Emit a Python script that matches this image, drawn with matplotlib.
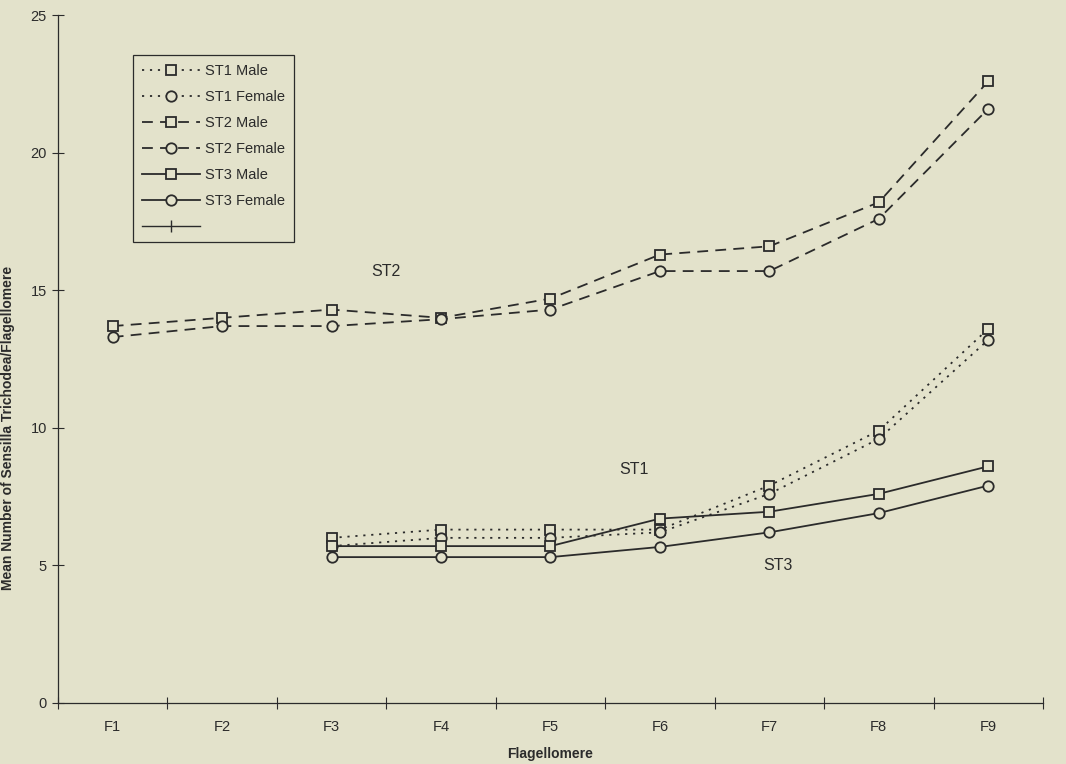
import numpy as np
import matplotlib.pyplot as plt
from matplotlib.lines import Line2D

plt.rcParams['font.family'] = ['Liberation Sans', 'DejaVu Sans']

categories = ['F1', 'F2', 'F3', 'F4', 'F5', 'F6', 'F7', 'F8', 'F9']
nan = np.nan
st1_male = [nan, nan, 6.0, 6.3, 6.3, 6.3, 7.9, 9.9, 13.6]
st1_female = [nan, nan, 5.7, 6.0, 6.0, 6.2, 7.6, 9.6, 13.2]
st2_male = [13.7, 14.0, 14.3, 14.0, 14.7, 16.3, 16.6, 18.2, 22.6]
st2_female = [13.3, 13.7, 13.7, 13.95, 14.3, 15.7, 15.7, 17.6, 21.6]
st3_male = [nan, nan, 5.7, 5.7, 5.7, 6.7, 6.95, 7.6, 8.6]
st3_female = [nan, nan, 5.3, 5.3, 5.3, 5.67, 6.2, 6.9, 7.9]

bg = '#e3e2cb'
ink = '#2b2b2b'

fig = plt.figure(figsize=(10.66, 7.64), dpi=100, facecolor=bg)
ax = fig.add_axes([0.0544, 0.080, 0.924, 0.900])
ax.set_facecolor(bg)

x = np.arange(1, len(categories) + 1)
series = [
    (st1_male, 's', (0, (1.2, 3.2)), 'ST1 Male'),
    (st1_female, 'o', (0, (1.2, 3.2)), 'ST1 Female'),
    (st2_male, 's', (0, (6, 4)), 'ST2 Male'),
    (st2_female, 'o', (0, (6, 4)), 'ST2 Female'),
    (st3_male, 's', '-', 'ST3 Male'),
    (st3_female, 'o', '-', 'ST3 Female'),
]
handles = []
for vals, mk, ls, lab in series:
    h, = ax.plot(x, vals, linestyle=ls, marker=mk, color=ink, lw=1.3,
                 markersize=7.5, markerfacecolor=bg, markeredgecolor=ink,
                 markeredgewidth=1.3, label=lab)
    handles.append(h)
# extra, unlabelled entry shown in the original legend
handles.append(Line2D([], [], color=ink, lw=1.0, marker='|', markersize=9,
                      markeredgewidth=1.0, label=''))

ax.set_xlim(0.5, 9.5)
ax.set_ylim(0, 25)
ax.set_yticks(range(0, 26, 5))
ax.set_xticks(np.arange(0.5, 9.6, 1.0))
ax.set_xticklabels([])
ax.set_xticks(x, minor=True)
ax.set_xticklabels(categories, minor=True)
ax.tick_params(axis='x', which='major', direction='inout', length=8, width=0.8, color=ink)
ax.tick_params(axis='x', which='minor', length=0, pad=12, labelsize=10.5, labelcolor=ink)
ax.tick_params(axis='y', direction='inout', length=8, width=0.8, color=ink,
               labelsize=10.5, labelcolor=ink, pad=4)

for s in ['top', 'right']:
    ax.spines[s].set_visible(False)
for s in ['left', 'bottom']:
    ax.spines[s].set_color(ink)
    ax.spines[s].set_linewidth(0.9)

ax.set_xlabel('Flagellomere', fontsize=10, fontweight='bold', color=ink, labelpad=10)
ax.set_ylabel('Mean Number of Sensilla Trichodea/Flagellomere', fontsize=10,
              fontweight='bold', color=ink)
ax.yaxis.set_label_coords(-0.044, 0.40)

ax.text(3.5, 15.7, 'ST2', fontsize=11.5, color=ink, ha='center', va='center')
ax.text(5.76, 8.5, 'ST1', fontsize=11.5, color=ink, ha='center', va='center')
ax.text(7.08, 5.0, 'ST3', fontsize=11.5, color=ink, ha='center', va='center')

leg = ax.legend(handles=handles, loc='upper left', bbox_to_anchor=(0.0765, 0.942),
                fontsize=10.5, frameon=True, fancybox=False, edgecolor=ink,
                facecolor=bg, framealpha=1, handlelength=4.0, labelspacing=0.82,
                borderpad=0.6, handletextpad=0.3, borderaxespad=0)
leg.get_frame().set_linewidth(0.9)
for t in leg.get_texts():
    t.set_color(ink)

fig.savefig('out.png', dpi=100, facecolor=bg)
